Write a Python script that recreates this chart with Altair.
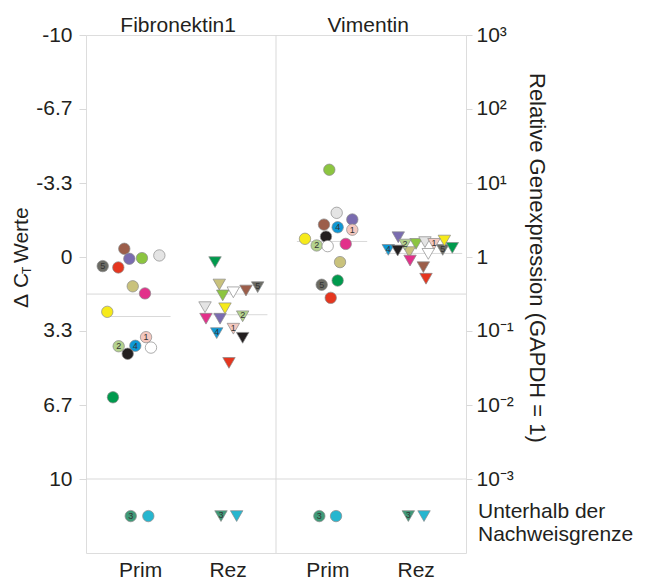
import altair as alt
import pandas as pd

FONT = "Liberation Sans"
TXT = "#231f20"
GRID = "#d9d9d9"
EDGE = "#8a8a8a"

# --- patients (same colour/number key in all four groups) ---
PATIENT = ["brown", "purple", "lime", "lightgrey", "grey5", "red", "khaki", "magenta",
           "yellow", "pink1", "lgreen2", "blue4", "black", "white", "dkgreen", "teal3", "cyan"]
FILL = ["#9c5e4a", "#7a6cb0", "#8cc540", "#e4e4e4", "#6b6b64", "#e5361f", "#c9c27c", "#e2318a",
        "#f6ea1a", "#f4c8bf", "#b4d28e", "#0e98d6", "#231f20", "#ffffff", "#009a4d", "#3f9a78", "#27b6cf"]
NUMBER = ["", "", "", "", "5", "", "", "", "", "1", "2", "4", "", "", "", "3", ""]

# --- groups ---
GROUP = ["Fibronektin1 Prim", "Fibronektin1 Rez", "Vimentin Prim", "Vimentin Rez"]
GROUP_CENTER = [0.5, 1.5, 2.5, 3.5]
GROUP_SHAPE = ["circle", "triangle-down", "circle", "triangle-down"]
CATEGORY_LABEL = ["Prim", "Rez", "Prim", "Rez"]
CATEGORY_POS = [0.57, 1.49, 2.54, 3.47]
PANEL_TITLE = ["Fibronektin1", "Vimentin"]
PANEL_TITLE_POS = [0.97, 2.97]

# --- delta Ct values (None = unterhalb der Nachweisgrenze) ---
FIB_PRIM = [-0.37, 0.08, 0.05, -0.07, 0.41, 0.47, 1.32, 1.64, 2.47, 3.61, 4.02, 4.00, 4.36, 4.08, 6.32, None, None]
FIB_REZ = [1.51, 2.78, 1.73, 2.26, 1.36, 4.77, 1.24, 2.78, 2.31, 3.23, 2.67, 3.43, 3.64, 1.59, 0.23, None, None]
VIM_PRIM = [-1.46, -1.69, -3.93, -1.99, 1.25, 1.84, 0.23, -0.59, -0.82, -1.23, -0.52, -1.34, -0.92, -0.49, 1.06, None, None]
VIM_REZ = [0.46, -0.89, -0.59, -0.67, -0.32, 0.98, -0.22, 0.16, -0.74, -0.59, -0.56, -0.32, -0.29, -0.14, -0.41, None, None]

# horizontal spread of the points within each group (beeswarm offsets)
FIB_PRIM_OFF = [-0.097, -0.044, 0.089, 0.272, -0.324, -0.160, -0.008, 0.121, -0.276, 0.132, -0.156, 0.019, -0.061, 0.184, -0.216, -0.029, 0.156]
FIB_REZ_OFF = [0.184, -0.089, -0.061, -0.247, 0.307, 0.005, -0.097, -0.237, -0.037, 0.051, 0.149, -0.124, 0.149, 0.051, -0.142, -0.079, 0.086]
VIM_PRIM_OFF = [0.005, 0.303, 0.061, 0.139, -0.019, 0.076, 0.174, 0.234, -0.195, 0.303, -0.072, 0.149, 0.026, 0.044, 0.149, -0.044, 0.132]
VIM_REZ_OFF = [0.051, -0.213, -0.026, 0.068, 0.255, 0.079, -0.097, -0.089, 0.272, 0.163, -0.142, -0.318, -0.219, 0.103, 0.356, -0.107, 0.058]

# group median lines (delta Ct) and their horizontal extent
MEDIAN = [2.68, 2.60, -0.70, -0.16]
MEDIAN_FROM = [0.22, 1.33, 2.22, 3.15]
MEDIAN_TO = [0.89, 1.91, 2.96, 3.96]

ND_ROW = 11.67          # row for "Unterhalb der Nachweisgrenze"
REF_LINES = [1.67, 10]  # light horizontal reference lines
PANEL_SPLIT = [2.0]

LEFT_TICKS = [-10, -6.667, -3.333, 0, 3.333, 6.667, 10]
RIGHT_LABELS = ["10³", "10²", "10¹", "1", "10⁻¹", "10⁻²", "10⁻³"]

VALUES = [FIB_PRIM, FIB_REZ, VIM_PRIM, VIM_REZ]
OFFSETS = [FIB_PRIM_OFF, FIB_REZ_OFF, VIM_PRIM_OFF, VIM_REZ_OFF]

rows = []
for gi, (vals, offs) in enumerate(zip(VALUES, OFFSETS)):
    for pi, (v, o) in enumerate(zip(vals, offs)):
        rows.append({
            "group": GROUP[gi],
            "shape": GROUP_SHAPE[gi],
            "patient": PATIENT[pi],
            "fill": FILL[pi],
            "num": NUMBER[pi],
            "x": GROUP_CENTER[gi] + o,
            "dct": v if v is not None else ND_ROW,
        })
df = pd.DataFrame(rows)

YS = alt.Scale(domain=[-10, 13.333], reverse=True, nice=False, zero=False)
XS = alt.Scale(domain=[0, 4], nice=False, zero=False)
NOX = alt.X("x:Q", scale=XS, axis=None)
NOY = alt.Y("dct:Q", scale=YS, axis=None)

hlines = alt.Chart(pd.DataFrame({"dct": REF_LINES})).mark_rule(color=GRID, strokeWidth=1).encode(
    y=alt.Y("dct:Q", scale=YS, axis=alt.Axis(
        orient="right", values=LEFT_TICKS,
        labelExpr="%s[round((datum.value + 10) / 3.3333)]" % str(RIGHT_LABELS),
        tickSize=6, tickColor=GRID, labelPadding=4, domain=False, grid=False, title=None,
        labelFont=FONT, labelFontSize=21, labelColor=TXT, labelAlign="left")))

vline = alt.Chart(pd.DataFrame({"x": PANEL_SPLIT})).mark_rule(color=GRID, strokeWidth=1).encode(x=NOX)

medians = alt.Chart(pd.DataFrame({"dct": MEDIAN, "x": MEDIAN_FROM, "x2": MEDIAN_TO})).mark_rule(
    color=GRID, strokeWidth=1).encode(x=NOX, x2="x2:Q", y=NOY)

circles = alt.Chart(df[df["shape"] == "circle"]).mark_point(
    shape="circle", filled=True, size=130, stroke=EDGE, strokeWidth=0.7, opacity=1).encode(
    x=alt.X("x:Q", scale=XS, axis=alt.Axis(
        values=CATEGORY_POS,
        labelExpr="datum.value < 1 || (datum.value > 2 && datum.value < 3) ? 'Prim' : 'Rez'",
        ticks=False, domain=False, grid=False, title=None, labelPadding=6,
        labelFont=FONT, labelFontSize=21, labelColor=TXT, labelFlush=False)),
    y=alt.Y("dct:Q", scale=YS, axis=alt.Axis(
        orient="left", values=LEFT_TICKS,
        labelExpr="replace(format(datum.value, '.2~g'), '−', '-')",
        tickSize=7, tickColor=GRID, labelPadding=7, domain=False, grid=False, title=None,
        labelFont=FONT, labelFontSize=21, labelColor=TXT)),
    fill=alt.Fill("fill:N", scale=None))

triangles = alt.Chart(df[df["shape"] == "triangle-down"]).mark_point(
    shape="triangle-down", filled=True, size=155, stroke=EDGE, strokeWidth=0.7, opacity=1).encode(
    x=NOX, y=NOY, fill=alt.Fill("fill:N", scale=None))

nums_c = alt.Chart(df[(df["num"] != "") & (df["shape"] == "circle")]).mark_text(
    font=FONT, fontSize=9, color="#333333", baseline="middle", align="center").encode(
    x=NOX, y=NOY, text="num:N")
nums_t = alt.Chart(df[(df["num"] != "") & (df["shape"] != "circle")]).mark_text(
    font=FONT, fontSize=9, color="#333333", baseline="middle", align="center", dy=-1).encode(
    x=NOX, y=NOY, text="num:N")

panel_titles = alt.Chart(pd.DataFrame({"t": PANEL_TITLE, "x": PANEL_TITLE_POS})).mark_text(
    font=FONT, fontSize=21, color=TXT, baseline="alphabetic", align="center").encode(
    x=NOX, y=alt.value(-3), text="t:N")

def label(text, x, y, size=21, angle=0, align="left"):
    return alt.Chart(pd.DataFrame({"t": [text]})).mark_text(
        font=FONT, fontSize=size, color=TXT, baseline="alphabetic", align=align, angle=angle).encode(
        x=alt.value(x), y=alt.value(y), text="t:N")

left_title = (label("Δ", -58, 273, angle=270) + label("C", -58, 253, angle=270)
              + label("T", -55, 239, size=12, angle=270) + label("Werte", -58, 228, angle=270))
right_title = label("Relative Genexpression (GAPDH = 1)", 444, 38, size=22, angle=90)
nd_text = label("Unterhalb der", 392, 483) + label("Nachweisgrenze", 392, 506)

chart = alt.layer(
    hlines, vline, medians, circles, triangles, nums_c, nums_t,
    panel_titles, left_title, right_title, nd_text,
).resolve_axis(y="independent", x="independent").properties(
    width=380, height=518,
    padding={"left": 78, "top": 27, "right": 172, "bottom": 30},
    autosize="none",
).configure_view(stroke=GRID, strokeWidth=1).configure(background="white")

chart.save("out.html", embed_options={"renderer": "svg", "actions": False})
